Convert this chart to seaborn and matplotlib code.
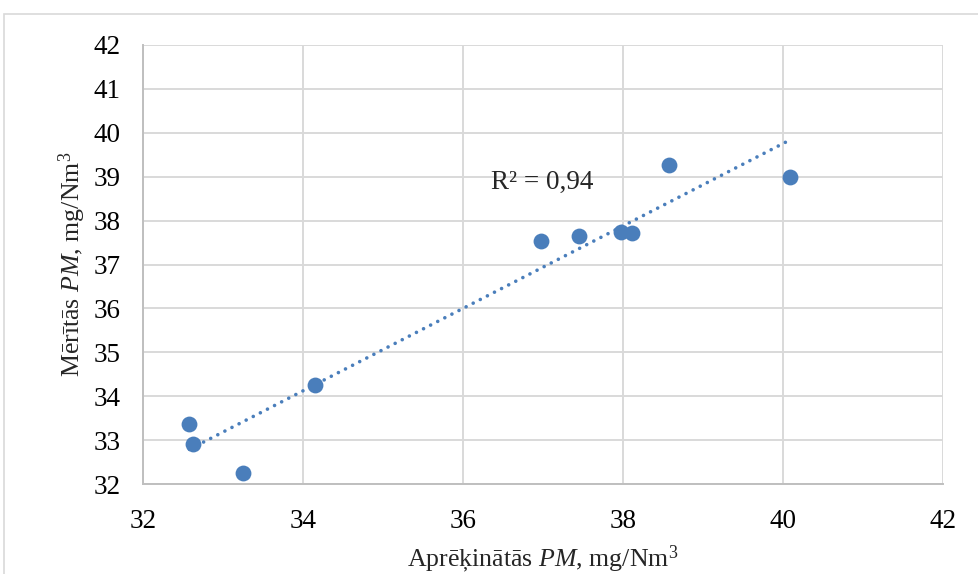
import numpy as np
import pandas as pd
import seaborn as sns
import matplotlib.pyplot as plt
from matplotlib.patches import Rectangle

# values
calc_pm = [32.58, 32.62, 33.25, 34.15, 36.98, 37.45, 37.98, 38.11, 38.58, 40.09]
meas_pm = [33.37, 32.90, 32.24, 34.25, 37.54, 37.66, 37.75, 37.71, 39.27, 38.99]
ticks_x = [32, 34, 36, 38, 40, 42]
ticks_y = [32, 33, 34, 35, 36, 37, 38, 39, 40, 41, 42]
r2_label = 'R² = 0,94'

data = pd.DataFrame({'calc': calc_pm, 'meas': meas_pm})

sns.set_style('white')
plt.rcParams['font.family'] = ['Liberation Serif', 'DejaVu Serif']
plt.rcParams['mathtext.fontset'] = 'custom'
plt.rcParams['mathtext.rm'] = 'Liberation Serif'
plt.rcParams['mathtext.it'] = 'Liberation Serif:italic'

point_color = '#4a7ebb'
grid_color = '#d9d9d9'
fs = 19.5
label_fs = 18.6

fig = plt.figure(figsize=(9.79, 5.74), dpi=100)
ax = fig.add_axes([143 / 979, 1 - 484 / 574, 800 / 979, 439 / 574])

# outer chart frame, as in the Excel export
fig.add_artist(Rectangle((4 / 979, -0.2), 1.2, 1.2 - 14 / 574,
                         transform=fig.transFigure, fill=False,
                         edgecolor=grid_color, linewidth=1.2))

sns.regplot(data=data, x='calc', y='meas', scatter=False, ci=None, ax=ax,
            line_kws={'color': point_color, 'linewidth': 2.6,
                      'linestyle': (0, (0.01, 2.2)),
                      'dash_capstyle': 'round'})
sns.scatterplot(data=data, x='calc', y='meas', ax=ax, s=130,
                color=point_color, edgecolor=point_color, linewidth=0, zorder=3)

ax.set_xlim(32, 42)
ax.set_ylim(32, 42)
ax.set_xticks(ticks_x)
ax.set_yticks(ticks_y)
ax.grid(True, color=grid_color, linewidth=1.4)
ax.set_axisbelow(True)
for side in ['top', 'right']:
    ax.spines[side].set_visible(False)
for side in ['left', 'bottom']:
    ax.spines[side].set_color('#bfbfbf')
    ax.spines[side].set_linewidth(1.4)
ax.tick_params(axis='both', length=0, labelsize=fs, colors='black')
ax.tick_params(axis='y', pad=16)
ax.tick_params(axis='x', pad=18)

ax.set_xlabel('Aprēķinātās $PM$, mg/Nm$^3$', fontsize=label_fs, labelpad=7)
ax.set_ylabel('Mērītās $PM$, mg/Nm$^3$', fontsize=label_fs, labelpad=4)

ax.text(36.35, 38.87, r2_label, fontsize=fs, va='center', ha='left')

fig.savefig('out.png', dpi=100)
